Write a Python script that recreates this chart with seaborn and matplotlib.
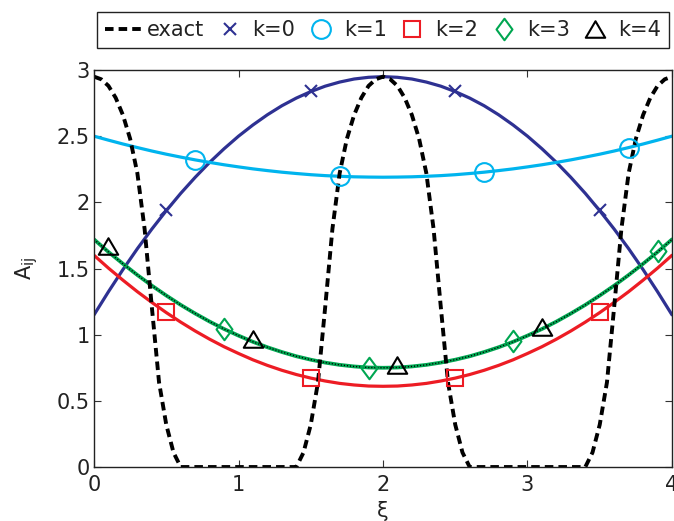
import matplotlib
matplotlib.use("Agg")
import matplotlib.pyplot as plt
from matplotlib.path import Path
import seaborn as sns

# curves (step 0.1)
xs = [0.0, 0.1, 0.2, 0.3, 0.4, 0.5, 0.6, 0.7, 0.8, 0.9, 1.0, 1.1, 1.2, 1.3, 1.4, 1.5, 1.6, 1.7, 1.8, 1.9, 2.0,
      2.1, 2.2, 2.3, 2.4, 2.5, 2.6, 2.7, 2.8, 2.9, 3.0, 3.1, 3.2, 3.3, 3.4, 3.5, 3.6, 3.7, 3.8, 3.9, 4.0]
k0 = [1.150, 1.325, 1.492, 1.650, 1.798, 1.937, 2.068, 2.189, 2.302, 2.405, 2.500, 2.585, 2.662, 2.730,
      2.788, 2.837, 2.878, 2.909, 2.932, 2.945, 2.950, 2.945, 2.932, 2.909, 2.878, 2.837, 2.788, 2.730,
      2.662, 2.585, 2.500, 2.405, 2.302, 2.189, 2.068, 1.937, 1.798, 1.650, 1.492, 1.325, 1.150]
k1 = [2.500, 2.470, 2.441, 2.414, 2.388, 2.364, 2.342, 2.321, 2.302, 2.284, 2.268, 2.253, 2.240, 2.228,
      2.218, 2.209, 2.202, 2.197, 2.193, 2.191, 2.190, 2.191, 2.193, 2.197, 2.202, 2.209, 2.218, 2.228,
      2.240, 2.253, 2.268, 2.284, 2.302, 2.321, 2.342, 2.364, 2.388, 2.414, 2.441, 2.470, 2.500]
k2 = [1.600, 1.503, 1.412, 1.325, 1.244, 1.167, 1.095, 1.028, 0.966, 0.909, 0.858, 0.810, 0.768, 0.731,
      0.699, 0.672, 0.650, 0.632, 0.620, 0.612, 0.610, 0.612, 0.620, 0.632, 0.650, 0.672, 0.699, 0.731,
      0.768, 0.810, 0.858, 0.909, 0.966, 1.028, 1.095, 1.167, 1.244, 1.325, 1.412, 1.503, 1.600]
k3 = [1.720, 1.625, 1.536, 1.451, 1.371, 1.296, 1.225, 1.160, 1.099, 1.043, 0.993, 0.946, 0.905, 0.869,
      0.837, 0.811, 0.789, 0.772, 0.760, 0.752, 0.750, 0.752, 0.760, 0.772, 0.789, 0.811, 0.837, 0.869,
      0.905, 0.946, 0.993, 1.043, 1.099, 1.160, 1.225, 1.296, 1.371, 1.451, 1.536, 1.625, 1.720]
k4 = [1.720, 1.625, 1.536, 1.451, 1.371, 1.296, 1.225, 1.160, 1.099, 1.043, 0.993, 0.946, 0.905, 0.869,
      0.837, 0.811, 0.789, 0.772, 0.760, 0.752, 0.750, 0.752, 0.760, 0.772, 0.789, 0.811, 0.837, 0.869,
      0.905, 0.946, 0.993, 1.043, 1.099, 1.160, 1.225, 1.296, 1.371, 1.451, 1.536, 1.625, 1.720]

exact_x = [0, 0.05, 0.1, 0.15, 0.2, 0.25, 0.3, 0.35, 0.4, 0.45, 0.5, 0.55, 0.6,
           1.4, 1.45, 1.5, 1.55, 1.6, 1.65, 1.7, 1.75, 1.8, 1.85, 1.9, 1.95, 2.0,
           2.05, 2.1, 2.15, 2.2, 2.25, 2.3, 2.35, 2.4, 2.45, 2.5, 2.55, 2.6,
           3.4, 3.45, 3.5, 3.55, 3.6, 3.65, 3.7, 3.75, 3.8, 3.85, 3.9, 3.95, 4.0]
exact_y = [2.95, 2.93, 2.88, 2.79, 2.66, 2.48, 2.22, 1.80, 1.21, 0.64, 0.32, 0.11, 0,
           0, 0.11, 0.32, 0.64, 1.21, 1.80, 2.22, 2.48, 2.66, 2.79, 2.88, 2.93, 2.95,
           2.93, 2.88, 2.79, 2.66, 2.48, 2.22, 1.80, 1.21, 0.64, 0.32, 0.11, 0,
           0, 0.11, 0.32, 0.64, 1.21, 1.80, 2.22, 2.48, 2.66, 2.79, 2.88, 2.93, 2.95]

# marker samples
m0_x = [0.5, 1.5, 2.5, 3.5]
m0_y = [1.94, 2.84, 2.84, 1.94]
m1_x = [0.7, 1.7, 2.7, 3.7]
m1_y = [2.32, 2.20, 2.23, 2.41]
m2_x = [0.5, 1.5, 2.5, 3.5]
m2_y = [1.17, 0.67, 0.67, 1.17]
m3_x = [0.9, 1.9, 2.9, 3.9]
m3_y = [1.04, 0.75, 0.95, 1.63]
m4_x = [0.1, 1.1, 2.1, 3.1]
m4_y = [1.67, 0.97, 0.77, 1.06]

blue = "#2E3192"
cyan = "#00B4EE"
red = "#ED1C24"
green = "#00A651"

diamond = Path([(0, 1), (0.74, 0), (0, -1), (-0.74, 0), (0, 1)],
               [Path.MOVETO, Path.LINETO, Path.LINETO, Path.LINETO, Path.CLOSEPOLY])
triangle = Path([(0, 0.85), (1, -0.85), (-1, -0.85), (0, 0.85)],
                [Path.MOVETO, Path.LINETO, Path.LINETO, Path.CLOSEPOLY])

sns.set_style("ticks")
plt.rcParams['font.family'] = ['DejaVu Sans']
plt.rcParams['mathtext.fontset'] = 'dejavusans'

fig = plt.figure(figsize=(6.74, 5.21), dpi=100)
ax = fig.add_axes([0.1395, 0.1036, 0.8575, 0.762])

lw = 2.3
sns.lineplot(x=xs, y=k0, color=blue, lw=lw, ax=ax)
sns.lineplot(x=xs, y=k1, color=cyan, lw=lw, ax=ax)
sns.lineplot(x=xs, y=k2, color=red, lw=lw, ax=ax)
sns.lineplot(x=xs, y=k3, color=green, lw=lw + 0.4, ax=ax)
sns.lineplot(x=xs, y=k4, color="black", lw=1.0, linestyle=(0, (0.8, 1.4)), ax=ax)
sns.lineplot(x=exact_x, y=exact_y, color="black", lw=2.8,
             linestyle=(0, (2.2, 1.3)), label="exact", ax=ax)

mk = dict(linestyle="none", mew=1.5, mfc="none", ax=ax)
sns.lineplot(x=m0_x, y=m0_y, marker="x", ms=9, mec=blue, color=blue, label="k=0", **mk)
sns.lineplot(x=m1_x, y=m1_y, marker="o", ms=13.5, mec=cyan, color=cyan, label="k=1", **mk)
sns.lineplot(x=m2_x, y=m2_y, marker="s", ms=12, mec=red, color=red, label="k=2", **mk)
sns.lineplot(x=m3_x, y=m3_y, marker=diamond, ms=15.5, mec=green, color=green, label="k=3", **mk)
sns.lineplot(x=m4_x, y=m4_y, marker=triangle, ms=14, mec="black", color="black", label="k=4", **mk)

ax.set_xlim(0, 4)
ax.set_ylim(0, 3)
ax.set_xticks([0, 1, 2, 3, 4])
ax.set_yticks([0, 0.5, 1, 1.5, 2, 2.5, 3])
ax.set_xticklabels(["0", "1", "2", "3", "4"])
ax.set_yticklabels(["0", "0.5", "1", "1.5", "2", "2.5", "3"])
ax.tick_params(direction="in", length=5, width=0.8, labelsize=15,
               top=True, right=True, color="#333333", pad=3, labelcolor="#222222")
ax.tick_params(axis="x", pad=6)
for s in ax.spines.values():
    s.set_linewidth(1.0)
    s.set_color("#222222")
ax.set_xlabel("ξ", fontsize=15, labelpad=4, color="#222222")
ax.set_ylabel(r"$\mathregular{A_{ij}}$", fontsize=15, labelpad=12, color="#222222")

leg = ax.legend(loc="lower center", bbox_to_anchor=(0.5, 1.055),
                ncol=6, fontsize=15, frameon=True, fancybox=False, framealpha=1,
                edgecolor="#222222", handlelength=1.8, handletextpad=0.2,
                columnspacing=0.33, borderpad=0.38, borderaxespad=0)
leg.get_frame().set_linewidth(1.0)
for t in leg.get_texts():
    t.set_color("#222222")

fig.savefig("out.png", dpi=100)
